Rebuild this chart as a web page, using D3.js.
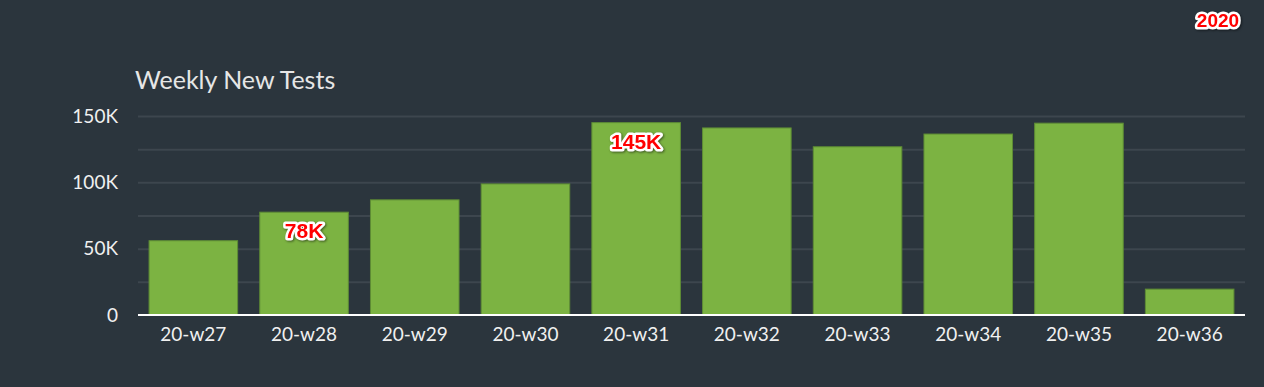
<!DOCTYPE html>
<html lang="en">
<head>
    <meta charset="UTF-8">
    <title>Weekly New Tests</title>
    <script src="https://d3js.org/d3.v7.min.js"></script>
    <style>
        body {
            margin: 0;
            overflow: hidden;
            background: #2b353d;
            font-family: Lato, Arial, sans-serif;
        }
        .tick text {
            fill: #f0f0f0;
            font-size: 19px;
            font-family: Lato, Arial, sans-serif;
        }
        .badge {
            font-family: Arial, "Liberation Sans", sans-serif;
            font-weight: bold;
            fill: #ff0000;
            stroke: #ffffff;
            stroke-width: 5px;
            stroke-linejoin: round;
            paint-order: stroke;
            filter: drop-shadow(1px 1px 1px rgba(0,0,0,0.5));
        }
    </style>
</head>
<body>
<svg id="chart"></svg>
<script>
    // Data
    const weeks = ["20-w27", "20-w28", "20-w29", "20-w30", "20-w31", "20-w32", "20-w33", "20-w34", "20-w35", "20-w36"];
    const tests = [56000, 77500, 86800, 98800, 145000, 141000, 126800, 136400, 144600, 19500];
    const labelled = { "20-w28": "78K", "20-w31": "145K" };
    const yTicks = [0, 50000, 100000, 150000];
    const gridTicks = [0, 25000, 50000, 75000, 100000, 125000, 150000];

    const width = 1264;
    const height = 387;
    const margin = { top: 116, right: 19, bottom: 72, left: 138 };

    const svg = d3.select("#chart")
        .attr("width", width)
        .attr("height", height);

    svg.append("rect")
        .attr("width", width)
        .attr("height", height)
        .attr("fill", "#2b353d");

    const x = d3.scaleBand()
        .domain(weeks)
        .range([margin.left, width - margin.right])
        .paddingInner(0.2)
        .paddingOuter(0.1);

    const y = d3.scaleLinear()
        .domain([0, 150000])
        .range([height - margin.bottom, margin.top]);

    // gridlines
    svg.append("g")
        .selectAll("line")
        .data(gridTicks.slice(1))
        .join("line")
        .attr("x1", margin.left)
        .attr("x2", width - margin.right)
        .attr("y1", d => y(d) + 0.5)
        .attr("y2", d => y(d) + 0.5)
        .attr("stroke", "#3d464e")
        .attr("stroke-width", 2);

    // title
    svg.append("text")
        .attr("x", 135)
        .attr("y", 89)
        .attr("fill", "#e6e6e6")
        .attr("font-size", "25px")
        .attr("font-family", "Lato, Arial, sans-serif")
        .text("Weekly New Tests");

    // bars
    svg.append("g")
        .selectAll("rect")
        .data(weeks)
        .join("rect")
        .attr("x", d => x(d))
        .attr("width", x.bandwidth())
        .attr("y", (d, i) => y(tests[i]))
        .attr("height", (d, i) => y(0) - y(tests[i]))
        .attr("fill", "#7cb342")
        .attr("stroke", "#5e8c35")
        .attr("stroke-width", 1);

    // y axis
    const yAxis = svg.append("g")
        .attr("transform", `translate(${margin.left},0)`)
        .call(d3.axisLeft(y).tickValues(yTicks).tickFormat(d => d === 0 ? "0" : d / 1000 + "K").tickSize(0).tickPadding(20));
    yAxis.select(".domain").remove();

    // x axis
    const xAxis = svg.append("g")
        .attr("transform", `translate(0,${y(0)})`)
        .call(d3.axisBottom(x).tickSize(0).tickPadding(13));
    xAxis.select(".domain")
        .attr("stroke", "#ffffff")
        .attr("stroke-width", 2)
        .attr("d", `M${margin.left},0H${width - margin.right}`);

    // red labels
    svg.append("g")
        .selectAll("text")
        .data(weeks.filter(d => labelled[d]))
        .join("text")
        .attr("class", "badge")
        .attr("font-size", "21px")
        .attr("x", d => x(d) + x.bandwidth() / 2)
        .attr("y", d => y(tests[weeks.indexOf(d)]) + 26)
        .attr("text-anchor", "middle")
        .text(d => labelled[d]);

    svg.append("text")
        .attr("class", "badge")
        .attr("font-size", "19px")
        .attr("x", 1218)
        .attr("y", 27)
        .attr("text-anchor", "middle")
        .text("2020");
</script>
</body>
</html>
